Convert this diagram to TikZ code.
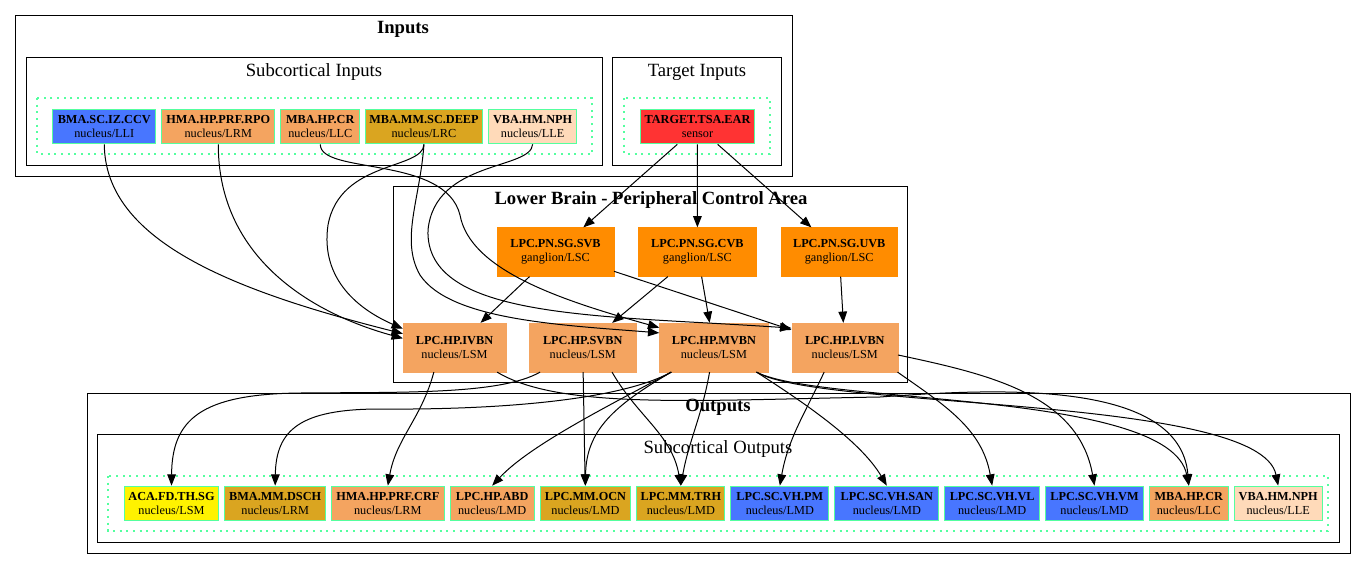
\documentclass[tikz,border=0pt]{standalone}
\usepackage{fontspec}
\setmainfont{Liberation Serif}
\usetikzlibrary{positioning,arrows.meta,calc}

\definecolor{royal}{HTML}{4876FF}
\definecolor{sandy}{HTML}{F4A460}
\definecolor{golden}{HTML}{DAA520}
\definecolor{peach}{HTML}{FFDAB9}
\definecolor{dorange}{HTML}{FF8C00}
\definecolor{sensorred}{HTML}{FF3333}
\definecolor{mint}{HTML}{54FF9F}

\begin{document}
\begin{tikzpicture}[x=.75pt, y=-.75pt,
  every node/.style={font=\fontsize{9.2}{10.5}\selectfont},
  clusterbox/.style={draw, line width=.75pt},
  dotbox/.style={draw=mint, line width=1pt, dash pattern=on 1.5pt off 3.5pt},
  ctitle/.style={font=\fontsize{14}{16}\selectfont\bfseries},
  csub/.style={font=\fontsize{14}{16}\selectfont},
  leaf/.style={draw=mint, line width=.75pt, align=center, inner xsep=1pt, inner ysep=1pt, minimum height=26pt},
  lpc/.style={draw=#1, fill=#1, align=center, inner xsep=1pt, minimum height=36.5pt},
  edge/.style={-{Triangle[length=8.5pt,width=6.5pt]}, line width=.75pt}]
  \useasboundingbox (0,0) rectangle (1367,569);
%
  \draw[clusterbox] (15,15) rectangle (792,176);
  \node[ctitle] (tInputs) at (403,29) {Inputs};
  \draw[clusterbox] (26,57) rectangle (602,165);
  \node[csub] (tSubIn) at (314,72) {Subcortical Inputs};
  \draw[dotbox] (37,98) rectangle (592,154);
  \draw[clusterbox] (612,57) rectangle (781,165);
  \node[csub] (tTarget) at (697,72) {Target Inputs};
  \draw[dotbox] (624,98) rectangle (770,154);
  \draw[clusterbox] (393,186) rectangle (907,382);
  \node[ctitle] (tLower) at (651,200) {Lower Brain - Peripheral Control Area};
  \draw[clusterbox] (87,393) rectangle (1350,553);
  \node[ctitle] (tOut) at (718,407) {Outputs};
  \draw[clusterbox] (97,434) rectangle (1339,542);
  \node[csub] (tSubOut) at (718,449) {Subcortical Outputs};
  \draw[dotbox] (108,476) rectangle (1328,531);
%
  \node[leaf, fill=royal, minimum width=77pt] (iBMA) at (104.3,126.5) {\textbf{BMA.SC.IZ.CCV}\\nucleus/LLI};
  \node[leaf, fill=sandy, minimum width=85pt, right=3.75pt of iBMA] (iHMA) {\textbf{HMA.HP.PRF.RPO}\\nucleus/LRM};
  \node[leaf, fill=sandy, minimum width=59pt, right=3.75pt of iHMA] (iMBACR) {\textbf{MBA.HP.CR}\\nucleus/LLC};
  \node[leaf, fill=golden, minimum width=87.5pt, right=3.75pt of iMBACR] (iDEEP) {\textbf{MBA.MM.SC.DEEP}\\nucleus/LRC};
  \node[leaf, fill=peach, minimum width=66.5pt, right=3.75pt of iDEEP] (iNPH) {\textbf{VBA.HM.NPH}\\nucleus/LLE};
  \node[leaf, fill=sensorred, minimum width=86pt] (TARGET) at (697.5,126.5) {\textbf{TARGET.TSA.EAR}\\sensor};
%
  \node[lpc=dorange, minimum width=87.5pt] (SVB) at (555.5,252) {\textbf{LPC.PN.SG.SVB}\\ganglion/LSC};
  \node[lpc=dorange, minimum width=88.5pt, right=18pt of SVB] (CVB) {\textbf{LPC.PN.SG.CVB}\\ganglion/LSC};
  \node[lpc=dorange, minimum width=87.5pt, right=18pt of CVB] (UVB) {\textbf{LPC.PN.SG.UVB}\\ganglion/LSC};
  \node[lpc=sandy, minimum width=77pt] (IVBN) at (454.5,347.5) {\textbf{LPC.HP.IVBN}\\nucleus/LSM};
  \node[lpc=sandy, minimum width=80pt, right=17.25pt of IVBN] (SVBN) {\textbf{LPC.HP.SVBN}\\nucleus/LSM};
  \node[lpc=sandy, minimum width=81.5pt, right=17.25pt of SVBN] (MVBN) {\textbf{LPC.HP.MVBN}\\nucleus/LSM};
  \node[lpc=sandy, minimum width=79.5pt, right=17.25pt of MVBN] (LVBN) {\textbf{LPC.HP.LVBN}\\nucleus/LSM};
%
  \node[leaf, fill=yellow, minimum width=71pt] (oACA) at (171.5,503.5) {\textbf{ACA.FD.TH.SG}\\nucleus/LSM};
  \node[leaf, fill=golden, minimum width=75.5pt, right=3.75pt of oACA] (oDSCH) {\textbf{BMA.MM.DSCH}\\nucleus/LRM};
  \node[leaf, fill=sandy, minimum width=84.5pt, right=3.75pt of oDSCH] (oCRF) {\textbf{HMA.HP.PRF.CRF}\\nucleus/LRM};
  \node[leaf, fill=sandy, minimum width=63pt, right=3.75pt of oCRF] (oABD) {\textbf{LPC.HP.ABD}\\nucleus/LMD};
  \node[leaf, fill=golden, minimum width=68pt, right=3.75pt of oABD] (oOCN) {\textbf{LPC.MM.OCN}\\nucleus/LMD};
  \node[leaf, fill=golden, minimum width=66pt, right=3.75pt of oOCN] (oTRH) {\textbf{LPC.MM.TRH}\\nucleus/LMD};
  \node[leaf, fill=royal, minimum width=73.5pt, right=3.75pt of oTRH] (oPM) {\textbf{LPC.SC.VH.PM}\\nucleus/LMD};
  \node[leaf, fill=royal, minimum width=78pt, right=3.75pt of oPM] (oSAN) {\textbf{LPC.SC.VH.SAN}\\nucleus/LMD};
  \node[leaf, fill=royal, minimum width=71pt, right=3.75pt of oSAN] (oVL) {\textbf{LPC.SC.VH.VL}\\nucleus/LMD};
  \node[leaf, fill=royal, minimum width=73.5pt, right=3.75pt of oVL] (oVM) {\textbf{LPC.SC.VH.VM}\\nucleus/LMD};
  \node[leaf, fill=sandy, minimum width=59pt, right=3.75pt of oVM] (oMBACR) {\textbf{MBA.HP.CR}\\nucleus/LLC};
  \node[leaf, fill=peach, minimum width=66pt, right=3.75pt of oMBACR] (oNPH) {\textbf{VBA.HM.NPH}\\nucleus/LLE};
%
  % inputs into the lower brain
  \draw[edge] (iBMA.south) .. controls (105,240) and (230,290) .. (IVBN.165);
  \draw[edge] (iHMA.south) .. controls (218,250) and (300,310) .. (IVBN.170);
  \draw[edge] (iDEEP.south) .. controls (423,170) and (340,160) .. (328,225) .. controls (320,280) and (360,310) .. (IVBN.160);
  \draw[edge] (iMBACR.south) .. controls (320,175) and (445,155) .. (460,215) .. controls (470,270) and (560,300) .. (MVBN.160);
  \draw[edge] (iDEEP.south) .. controls (420,200) and (400,240) .. (420,275) .. controls (450,320) and (560,325) .. (MVBN.165);
  \draw[edge] (iNPH.south) .. controls (531,170) and (435,160) .. (428,230) .. controls (425,320) and (600,315) .. (LVBN.160);
  \draw[edge] (TARGET) -- (SVB);
  \draw[edge] (TARGET) -- (CVB);
  \draw[edge] (TARGET) -- (UVB);
  \draw[edge] (SVB) -- (IVBN);
  \draw[edge] (SVB) -- (LVBN);
  \draw[edge] (CVB) -- (SVBN);
  \draw[edge] (CVB) -- (MVBN);
  \draw[edge] (UVB) -- (LVBN);
  % lower brain to outputs
  \draw[edge] (IVBN.-130) to[out=-105, in=80] (oCRF.north);
  \draw[edge] (IVBN.-30) .. controls (560,410) and (700,400) .. (880,397) .. controls (1000,388) and (1180,380) .. (oMBACR.north);
  \draw[edge] (SVBN.-150) .. controls (500,395) and (400,392) .. (300,393) .. controls (200,394) and (172,420) .. (oACA.north);
  \draw[edge] (SVBN) -- (oOCN);
  \draw[edge] (SVBN.-40) to[out=-60, in=100] (oTRH.north);
  \draw[edge] (MVBN.-150) .. controls (620,400) and (500,410) .. (380,409) .. controls (300,409) and (276,430) .. (oDSCH.north);
  \draw[edge] (MVBN.-150) .. controls (610,405) and (530,445) .. (oABD.north);
  \draw[edge] (MVBN.-150) .. controls (615,405) and (586,430) .. (oOCN.north);
  \draw[edge] (MVBN.-100) to[out=-100, in=80] (oTRH.north);
  \draw[edge] (MVBN.-30) .. controls (800,400) and (860,440) .. (oSAN.north);
  \draw[edge] (MVBN.-30) .. controls (820,405) and (1170,390) .. (oMBACR.north);
  \draw[edge] (MVBN.-30) .. controls (820,410) and (1260,395) .. (oNPH.north);
  \draw[edge] (LVBN.-130) to[out=-115, in=80] (oPM.north);
  \draw[edge] (LVBN.-25) to[out=-35, in=100] (oVL.north);
  \draw[edge] (LVBN.-8) to[out=-12, in=100] (oVM.north);
\end{tikzpicture}
\end{document}
